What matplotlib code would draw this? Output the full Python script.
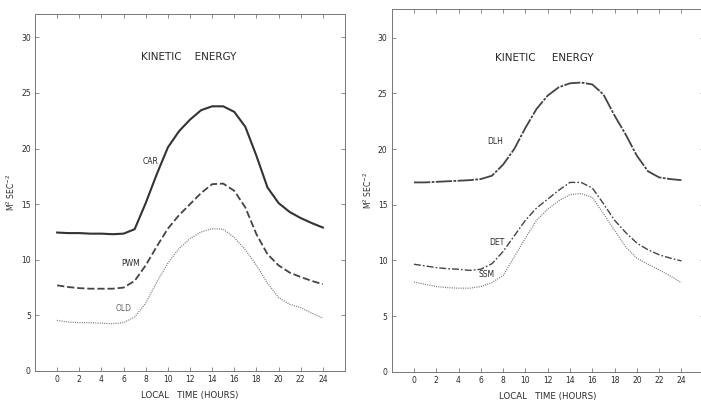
import numpy as np
import matplotlib
matplotlib.use("Agg")
import matplotlib.pyplot as plt

# Datos: energia cinetica por hora local
hours = list(range(0, 25))

car = [12.45, 12.4, 12.4, 12.35, 12.35, 12.3, 12.35, 12.75, 15.1, 17.7, 20.1, 21.55, 22.6,
       23.45, 23.8, 23.8, 23.3, 21.95, 19.35, 16.5, 15.1, 14.3, 13.75, 13.3, 12.9]
pwm = [7.7, 7.55, 7.45, 7.4, 7.4, 7.4, 7.5, 8.1, 9.5, 11.2, 12.8, 14.0, 15.0,
       16.0, 16.8, 16.85, 16.2, 14.7, 12.3, 10.5, 9.5, 8.85, 8.45, 8.1, 7.8]
old = [4.55, 4.4, 4.35, 4.35, 4.3, 4.25, 4.35, 4.85, 6.1, 8.0, 9.7, 11.0, 11.9,
       12.5, 12.8, 12.75, 12.0, 10.9, 9.5, 7.9, 6.6, 6.0, 5.7, 5.2, 4.75]

dlh = [17.0, 17.0, 17.05, 17.1, 17.15, 17.2, 17.3, 17.6, 18.6, 20.0, 21.9, 23.6, 24.8,
       25.55, 25.9, 25.97, 25.8, 24.9, 23.0, 21.3, 19.4, 18.0, 17.45, 17.3, 17.2]
det = [9.65, 9.5, 9.35, 9.25, 9.2, 9.1, 9.2, 9.7, 10.8, 12.2, 13.6, 14.7, 15.5,
       16.3, 17.0, 17.0, 16.5, 15.1, 13.6, 12.5, 11.55, 10.95, 10.5, 10.2, 9.95]
ssm = [8.05, 7.85, 7.65, 7.55, 7.5, 7.5, 7.65, 8.0, 8.65, 10.3, 12.0, 13.6, 14.6,
       15.35, 15.9, 16.0, 15.65, 14.2, 12.7, 11.2, 10.2, 9.65, 9.15, 8.6, 8.0]

xticks = list(range(0, 25, 2))
yticks = [0, 5, 10, 15, 20, 25, 30]

ink = "#2a2a2a"
frame = "#777777"
fs = 5.5

fig = plt.figure(figsize=(7.01, 4.03), dpi=100)
ax1 = fig.add_axes([35 / 701, 32 / 403, 310 / 701, 357 / 403])
ax2 = fig.add_axes([391.7 / 701, 31.3 / 403, 312 / 701, 363 / 403])


def style(ax, ytop):
    ax.set_xlim(-2, 26)
    ax.set_ylim(0, ytop)
    ax.set_xticks(xticks)
    ax.set_yticks(yticks)
    ax.tick_params(axis="both", direction="in", length=3, width=0.6, color=frame,
                   labelsize=fs, labelcolor=ink, pad=3,
                   top=True, right=True)
    for s in ax.spines.values():
        s.set_color(frame)
        s.set_linewidth(0.7)
    ax.set_xlabel("LOCAL   TIME (HOURS)", fontsize=6.2, color=ink, labelpad=5)
    ax.set_ylabel("M$^2$ SEC$^{-2}$", fontsize=fs, color=ink, labelpad=3)


# Panel izquierdo
ax1.plot(hours, car, color="#333333", lw=1.5, ls="-", solid_joinstyle="round")
ax1.plot(hours, pwm, color="#444444", lw=1.3, ls=(0, (4, 1.6)))
ax1.plot(hours, old, color="#777777", lw=0.9, ls=(0, (0.8, 1.0)))
style(ax1, 32.1)
ax1.text(11.9, 28.2, "KINETIC    ENERGY", fontsize=7.5, color=ink, ha="center", va="center")
ax1.text(8.4, 18.8, "CAR", fontsize=fs, color=ink, ha="center", va="center")
ax1.text(6.6, 9.7, "PWM", fontsize=fs, color=ink, ha="center", va="center")
ax1.text(6.0, 5.65, "OLD", fontsize=fs, color="#666666", ha="center", va="center")

# Panel derecho
ax2.plot(hours, dlh, color="#444444", lw=1.3, ls=(0, (9, 0.8, 1.5, 0.8)))
ax2.plot(hours, det, color="#444444", lw=1.0, ls=(0, (5, 1.5, 1.2, 1.5)))
ax2.plot(hours, ssm, color="#777777", lw=0.9, ls=(0, (0.8, 1.0)))
style(ax2, 32.6)
ax2.text(11.7, 28.2, "KINETIC     ENERGY", fontsize=7.5, color=ink, ha="center", va="center")
ax2.text(7.3, 20.7, "DLH", fontsize=fs, color=ink, ha="center", va="center")
ax2.text(7.4, 11.6, "DET", fontsize=fs, color=ink, ha="center", va="center")
ax2.text(6.5, 8.7, "SSM", fontsize=fs, color=ink, ha="center", va="center")

fig.savefig("out.png", dpi=100)
